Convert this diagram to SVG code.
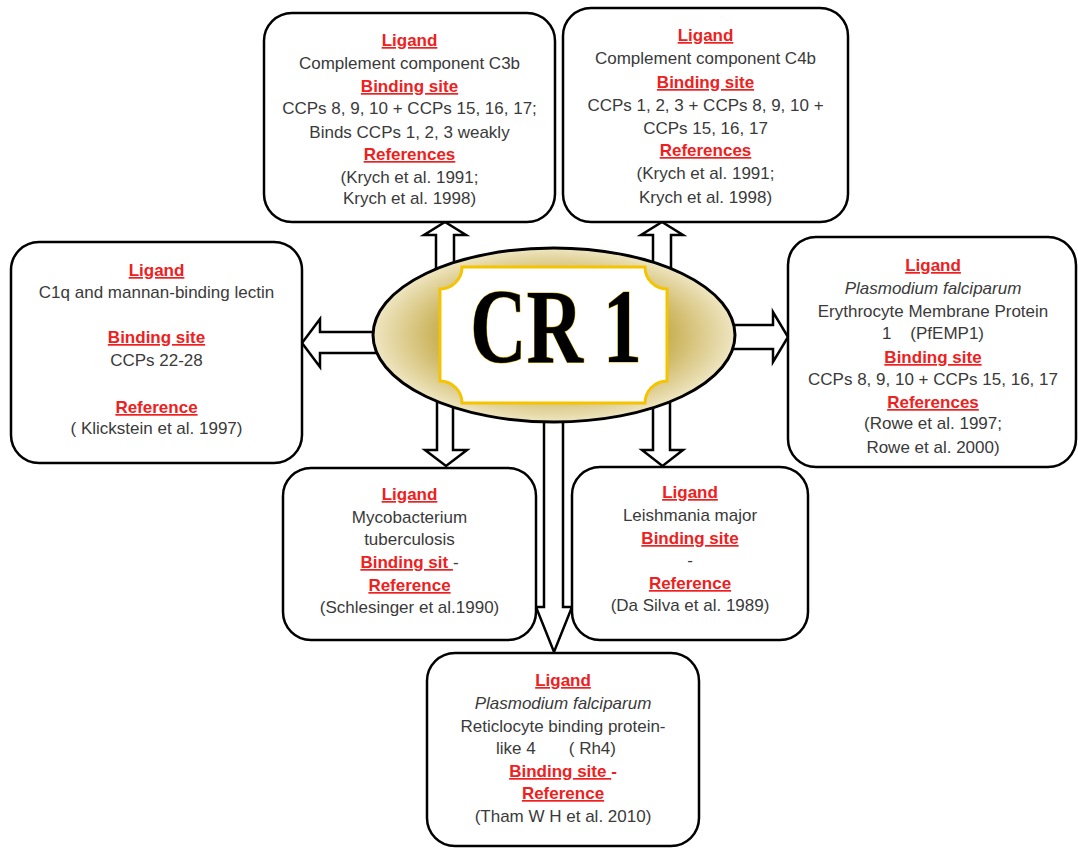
<svg xmlns="http://www.w3.org/2000/svg" width="1078" height="848" viewBox="0 0 1078 848">
<style>
.box{fill:#fff;stroke:#000;stroke-width:2.5}
.arr{fill:#fff;stroke:#000;stroke-width:2.5;stroke-linejoin:miter}
text{font-family:"Liberation Sans",Arial,sans-serif;font-size:17px;text-anchor:middle;fill:#3a3a3a}
.h{fill:#ee2020;font-weight:bold;text-decoration:underline}
.i{font-style:italic}
</style>
<defs>
<radialGradient id="gold" cx="0.5" cy="0.5" r="0.5">
<stop offset="0" stop-color="#b8982c"/>
<stop offset="0.6" stop-color="#c6ac4c"/>
<stop offset="1" stop-color="#efe6c2"/>
</radialGradient>
</defs>
<g id="connectors">
<polygon class="arr" points="436,275 436,235 424,235 445,222 466,235 454,235 454,275"/>
<polygon class="arr" points="653,275 653,235 641,235 662,222 683,235 671,235 671,275"/>
<polygon class="arr" points="390,332 320,332 320,319 302,343 320,367 320,353 390,353"/>
<polygon class="arr" points="720,325 773,325 773,312 788,337 773,362 773,349 720,349"/>
<polygon class="arr" points="437,395 437,450 425,450 446,466 467,450 453,450 453,395"/>
<polygon class="arr" points="653,395 653,450 642,450 662.5,466 683,450 670,450 670,395"/>
<polygon class="arr" points="544,400 544,607 536,607 554,652 572,607 563,607 563,400"/>
</g>
<g id="cr1">
<ellipse cx="554" cy="335" rx="181" ry="87" fill="url(#gold)" stroke="#000" stroke-width="3"/>
<path d="M462,267 H645 A22,22 0 0 0 667,289 V381 A22,22 0 0 0 645,403 H462 A22,22 0 0 0 440,381 V289 A22,22 0 0 0 462,267 Z" fill="#fff" stroke="#f5c400" stroke-width="3"/>
<text transform="translate(556,362) scale(0.74,1)" style="font-family:'Liberation Serif','Times New Roman',serif;font-size:106px;font-weight:bold;fill:#000;stroke:#d8b400;stroke-width:1.2;paint-order:stroke">CR 1</text>
</g>
<g id="c3b">
<rect class="box" x="264" y="13" width="291" height="209" rx="28"/>
<text class="h" x="409.5" y="46">Ligand</text>
<text x="409.5" y="69">Complement component C3b</text>
<text class="h" x="409.5" y="92">Binding site</text>
<text x="409.5" y="114">CCPs 8, 9, 10 + CCPs 15, 16, 17;</text>
<text x="409.5" y="138">Binds CCPs 1, 2, 3 weakly</text>
<text class="h" x="409.5" y="160">References</text>
<text x="409.5" y="183">(Krych et al. 1991;</text>
<text x="409.5" y="204">Krych et al. 1998)</text>
</g>
<g id="c4b">
<rect class="box" x="563" y="8" width="285" height="214" rx="28"/>
<text class="h" x="705.5" y="41">Ligand</text>
<text x="705.5" y="64">Complement component C4b</text>
<text class="h" x="705.5" y="88">Binding site</text>
<text x="705.5" y="111">CCPs 1, 2, 3 + CCPs 8, 9, 10 +</text>
<text x="705.5" y="134">CCPs 15, 16, 17</text>
<text class="h" x="705.5" y="156">References</text>
<text x="705.5" y="179">(Krych et al. 1991;</text>
<text x="705.5" y="203">Krych et al. 1998)</text>
</g>
<g id="c1q">
<rect class="box" x="11" y="242" width="291" height="221" rx="28"/>
<text class="h" x="156.5" y="276">Ligand</text>
<text x="156.5" y="298">C1q and mannan-binding lectin</text>
<text class="h" x="156.5" y="343">Binding site</text>
<text x="156.5" y="366">CCPs 22-28</text>
<text class="h" x="156.5" y="413">Reference</text>
<text x="156.5" y="434">( Klickstein et al. 1997)</text>
</g>
<g id="pfemp1">
<rect class="box" x="788" y="237" width="288" height="230" rx="28"/>
<text class="h" x="933" y="271">Ligand</text>
<text class="i" x="933" y="294">Plasmodium falciparum</text>
<text x="933" y="317">Erythrocyte Membrane Protein</text>
<text x="933" y="339" xml:space="preserve">1    (PfEMP1)</text>
<text class="h" x="933" y="363">Binding site</text>
<text x="933" y="385">CCPs 8, 9, 10 + CCPs 15, 16, 17</text>
<text class="h" x="933" y="408">References</text>
<text x="933" y="429">(Rowe et al. 1997;</text>
<text x="933" y="453">Rowe et al. 2000)</text>
</g>
<g id="mtb">
<rect class="box" x="283" y="468" width="253" height="172" rx="28"/>
<text class="h" x="409.5" y="500">Ligand</text>
<text x="409.5" y="523">Mycobacterium</text>
<text x="409.5" y="545">tuberculosis</text>
<text x="409.5" y="568" xml:space="preserve"><tspan class="h">Binding sit </tspan>-</text>
<text class="h" x="409.5" y="591">Reference</text>
<text x="409.5" y="613">(Schlesinger et al.1990)</text>
</g>
<g id="leish">
<rect class="box" x="572" y="467" width="236" height="173" rx="28"/>
<text class="h" x="690" y="498">Ligand</text>
<text x="690" y="521">Leishmania major</text>
<text class="h" x="690" y="544">Binding site</text>
<text x="690" y="566">-</text>
<text class="h" x="690" y="589">Reference</text>
<text x="690" y="611">(Da Silva et al. 1989)</text>
</g>
<g id="rh4">
<rect class="box" x="427" y="653" width="272" height="193" rx="28"/>
<text class="h" x="563" y="686">Ligand</text>
<text class="i" x="563" y="709">Plasmodium falciparum</text>
<text x="563" y="732">Reticlocyte binding protein-</text>
<text x="556" y="754" xml:space="preserve">like 4       ( Rh4)</text>
<text x="563" y="777" xml:space="preserve"><tspan class="h">Binding site </tspan><tspan style="fill:#ee2020;font-weight:bold">-</tspan></text>
<text class="h" x="563" y="799">Reference</text>
<text x="563" y="822">(Tham W H et al. 2010)</text>
</g>
</svg>
